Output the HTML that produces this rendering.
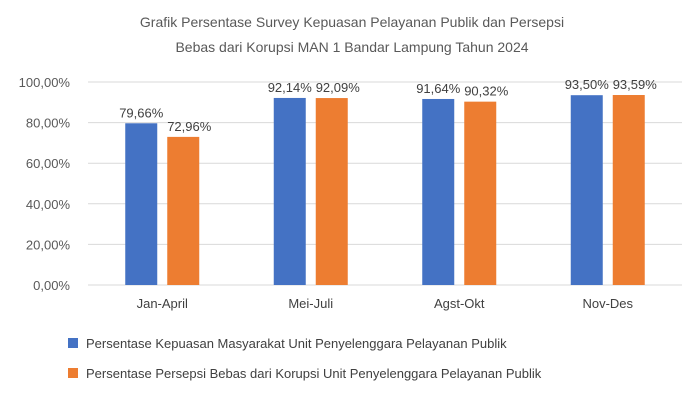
<!DOCTYPE html>
<html><head><meta charset="utf-8"><style>
body{margin:0;background:#fff}
svg{display:block;font-family:"Liberation Sans",sans-serif}
</style></head><body>
<svg id="c" width="700" height="400" viewBox="0 0 700 400">
<rect width="700" height="400" fill="#fff"/>
<text x="352" y="27" text-anchor="middle" font-size="14" fill="#595959">Grafik Persentase Survey  Kepuasan Pelayanan Publik dan Persepsi</text>
<text x="352" y="52" text-anchor="middle" font-size="14" fill="#595959">Bebas dari Korupsi MAN 1 Bandar Lampung Tahun 2024</text>
<g id="grid"></g><g id="bars"></g>
<g>
<rect x="68" y="338" width="10" height="10" fill="#4472C4"/>
<text x="86" y="348" font-size="13" fill="#404040">Persentase Kepuasan  Masyarakat Unit Penyelenggara Pelayanan Publik</text>
<rect x="68" y="368" width="10" height="10" fill="#ED7D31"/>
<text x="86" y="378" font-size="13" fill="#404040">Persentase Persepsi Bebas  dari Korupsi Unit Penyelenggara Pelayanan Publik</text>
</g>
</svg>
<script>
const categories=["Jan-April","Mei-Juli","Agst-Okt","Nov-Des"];
const kepuasan=[79.66,92.14,91.64,93.50];
const persepsi=[72.96,92.09,90.32,93.59];
const ticks=[0,20,40,60,80,100];
const NS="http://www.w3.org/2000/svg";
const x0=88,x1=682,y0=285,y100=82;
const yS=v=>y0-(v/100)*(y0-y100);
const bw=(x1-x0)/categories.length;
const fmt=v=>v.toFixed(2).replace('.',',')+'%';
function mk(t,a,p){const e=document.createElementNS(NS,t);for(const k in a)e.setAttribute(k,a[k]);p.appendChild(e);return e;}
const g=document.getElementById('grid'),b=document.getElementById('bars');
ticks.forEach(t=>{
 const l=mk('line',{x1:x0,x2:x1,y1:yS(t),y2:yS(t),stroke:'#d9d9d9','stroke-width':1},g);
 
 
 const tx=mk('text',{x:70,y:yS(t)+5,'text-anchor':'end','font-size':13,fill:'#595959'},g);
 tx.textContent=fmt(t);
 
 
});
categories.forEach((c,i)=>{
 const cx=x0+bw*(i+0.5);
 const series=[[kepuasan[i],'#4472C4',cx-37,'bar-kepuasan'],[persepsi[i],'#ED7D31',cx+5,'bar-persepsi']];
 series.forEach(([v,col,x,nm],j)=>{
  const r=mk('rect',{x:x,y:yS(v),width:32,height:y0-yS(v),fill:col},b);
  
  
  const t=mk('text',{x:x+16+(j?6:0),y:yS(v)-6,'text-anchor':'middle','font-size':13,fill:'#404040'},b);
  t.textContent=fmt(v);
  
  
 });
 const t=mk('text',{x:cx,y:308,'text-anchor':'middle','font-size':13,fill:'#404040'},b);
 t.textContent=c;
 
 
});
</script>
</body></html>
